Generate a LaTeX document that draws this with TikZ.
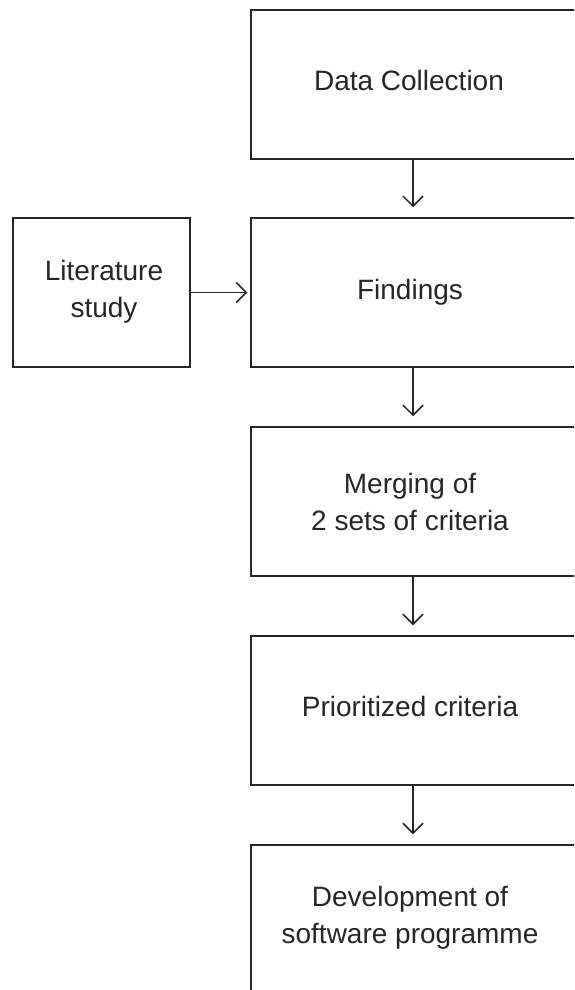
\documentclass[tikz,border=0pt]{standalone}
\usepackage{fontspec}
\setmainfont{Liberation Sans}
\usetikzlibrary{arrows.meta}
\begin{document}
\begin{tikzpicture}[x=1pt,y=-1pt,
  box/.style={draw=black!85, line width=1.5pt, minimum width=334pt, minimum height=149pt, inner sep=0pt},
  sbox/.style={draw=black!85, line width=1.5pt, minimum width=177pt, minimum height=149pt, inner sep=0pt},
  lbl/.style={inner sep=0pt, align=center, font=\fontsize{28}{37}\selectfont, text=black!85},
  conn/.style={draw=black!85, line width=1.5pt, -{Straight Barb[length=10pt,width=20pt,line width=1.5pt]}}]
\useasboundingbox (0,0) rectangle (574,990);
\clip (0,0) rectangle (574,990);
\fill[white] (0,0) rectangle (574,990);
\node[box] (dc) at (418,84.5) {};
\node[box] (fi) at (418,292.5) {};
\node[box] (me) at (418,501.5) {};
\node[box] (pc) at (418,710.5) {};
\node[box] (dev) at (418,919.5) {};
\node[sbox] (lit) at (101.5,292.5) {};
\node[lbl] (tdc) at (409,80) {Data Collection};
\node[lbl] (tfi) at (410,292) {Findings};
\node[lbl] (tme) at (410,501.5) {Merging of\\2 sets of criteria};
\node[lbl] (tpc) at (410,706) {Prioritized criteria};
\node[lbl] (tdev) at (410,918) {Development of\\software programme};
\node[lbl] (tlit) at (104,292) {Literature\\study};
\draw[conn] ([xshift=-5pt]dc.south) -- ([xshift=-5pt,yshift=10pt]fi.north);
\draw[conn] ([xshift=-5pt]fi.south) -- ([xshift=-5pt,yshift=10pt]me.north);
\draw[conn] ([xshift=-5pt]me.south) -- ([xshift=-5pt,yshift=10pt]pc.north);
\draw[conn] ([xshift=-5pt]pc.south) -- ([xshift=-5pt,yshift=10pt]dev.north);
\draw[conn] (lit.east) -- ([xshift=-3pt]fi.west);
\end{tikzpicture}
\end{document}
